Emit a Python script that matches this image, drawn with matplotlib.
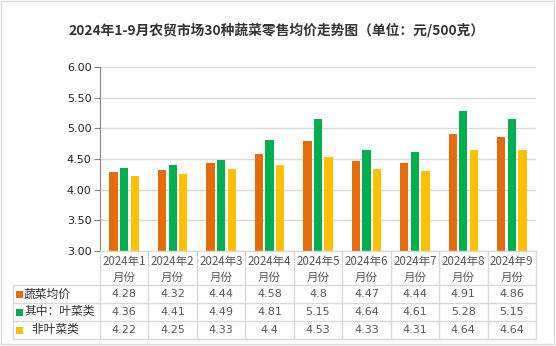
import matplotlib
matplotlib.use("Agg")
import matplotlib.pyplot as plt
from matplotlib.patches import Rectangle
from matplotlib.lines import Line2D

plt.rcParams['font.family'] = ['Noto Sans CJK SC', 'DejaVu Sans']

title = "2024年1-9月农贸市场30种蔬菜零售均价走势图（单位：元/500克）"
months = ["2024年1\n月份", "2024年2\n月份", "2024年3\n月份", "2024年4\n月份", "2024年5\n月份",
          "2024年6\n月份", "2024年7\n月份", "2024年8\n月份", "2024年9\n月份"]
series_names = ["蔬菜均价", "其中：叶菜类", "   非叶菜类"]
avg = [4.28, 4.32, 4.44, 4.58, 4.8, 4.47, 4.44, 4.91, 4.86]
leafy = [4.36, 4.41, 4.49, 4.81, 5.15, 4.64, 4.61, 5.28, 5.15]
nonleafy = [4.22, 4.25, 4.33, 4.4, 4.53, 4.33, 4.31, 4.64, 4.64]
colors = ["#E46C0A", "#00B050", "#FFC000"]
yticks = [3.00, 3.50, 4.00, 4.50, 5.00, 5.50, 6.00]

W, H = 556, 346
fig = plt.figure(figsize=(W / 100, H / 100), dpi=100)

# pixel layout
ax_l, ax_r, ax_t, ax_b = 100, 536, 67, 251
ax = fig.add_axes([ax_l / W, (H - ax_b) / H, (ax_r - ax_l) / W, (ax_b - ax_t) / H])

n = len(months)
bw = 8.3 / 48.44
offs = [-(bw + 2.3 / 48.44), 0, bw + 2.3 / 48.44]
for vals, c, o in zip([avg, leafy, nonleafy], colors, offs):
    ax.bar([i + o for i in range(n)], vals, width=bw, color=c, bottom=0, zorder=3)

ax.set_xlim(-0.5, n - 0.5)
ax.set_ylim(3.0, 6.0)
ax.set_yticks(yticks)
ax.set_yticklabels([f"{v:.2f}" for v in yticks], fontsize=8, color="#222222", family="DejaVu Sans")
ax.set_xticks([])
ax.grid(axis="y", color="#D9D9D9", linewidth=1, zorder=0)
for s in ["top", "right", "bottom"]:
    ax.spines[s].set_visible(False)
ax.spines["left"].set_color("#868686")
ax.tick_params(axis="y", length=4, color="#868686", pad=2)

# overlay for table and title
ov = fig.add_axes([0, 0, 1, 1])
ov.set_xlim(0, W)
ov.set_ylim(H, 0)
ov.axis("off")

ov.add_patch(Rectangle((1, 1), W - 3, H - 3, fill=False, edgecolor="#D9D9D9", linewidth=1))
ov.text(W / 2 - 1, 30, title, ha="center", va="center", fontsize=9.9, fontweight="bold", color="#333333")

cw = (ax_r - ax_l) / n
gc = "#D9D9D9"
rows_y = [251, 285, 303, 321, 339]
lab_l = 13
# horizontal lines
ov.add_line(Line2D([ax_l, ax_r], [251, 251], color=gc, lw=1))
for y in rows_y[1:]:
    ov.add_line(Line2D([lab_l, ax_r], [y, y], color=gc, lw=1))
# vertical lines
for k in range(n + 1):
    ov.add_line(Line2D([ax_l + k * cw] * 2, [251, 339], color=gc, lw=1))
ov.add_line(Line2D([lab_l, lab_l], [285, 339], color=gc, lw=1))

tc = "#595959"
for i, m in enumerate(months):
    cx = ax_l + (i + 0.5) * cw
    top, bot = m.split("\n")
    ov.text(cx, 262, top, ha="center", va="center", fontsize=8.3, color=tc)
    ov.text(cx, 277, bot, ha="center", va="center", fontsize=8.3, color=tc)

for r, (name, vals, c) in enumerate(zip(series_names, [avg, leafy, nonleafy], colors)):
    yc = (rows_y[r + 1] + rows_y[r + 2]) / 2
    ov.add_patch(Rectangle((16, yc - 3.5), 7, 7, color=c, linewidth=0))
    ov.text(24, yc, name, ha="left", va="center", fontsize=8.5, color="#333333")
    for i, v in enumerate(vals):
        cx = ax_l + (i + 0.5) * cw
        ov.text(cx, yc, f"{v:g}", ha="center", va="center", fontsize=8, color=tc, family="DejaVu Sans")

fig.savefig("out.png", dpi=100)
